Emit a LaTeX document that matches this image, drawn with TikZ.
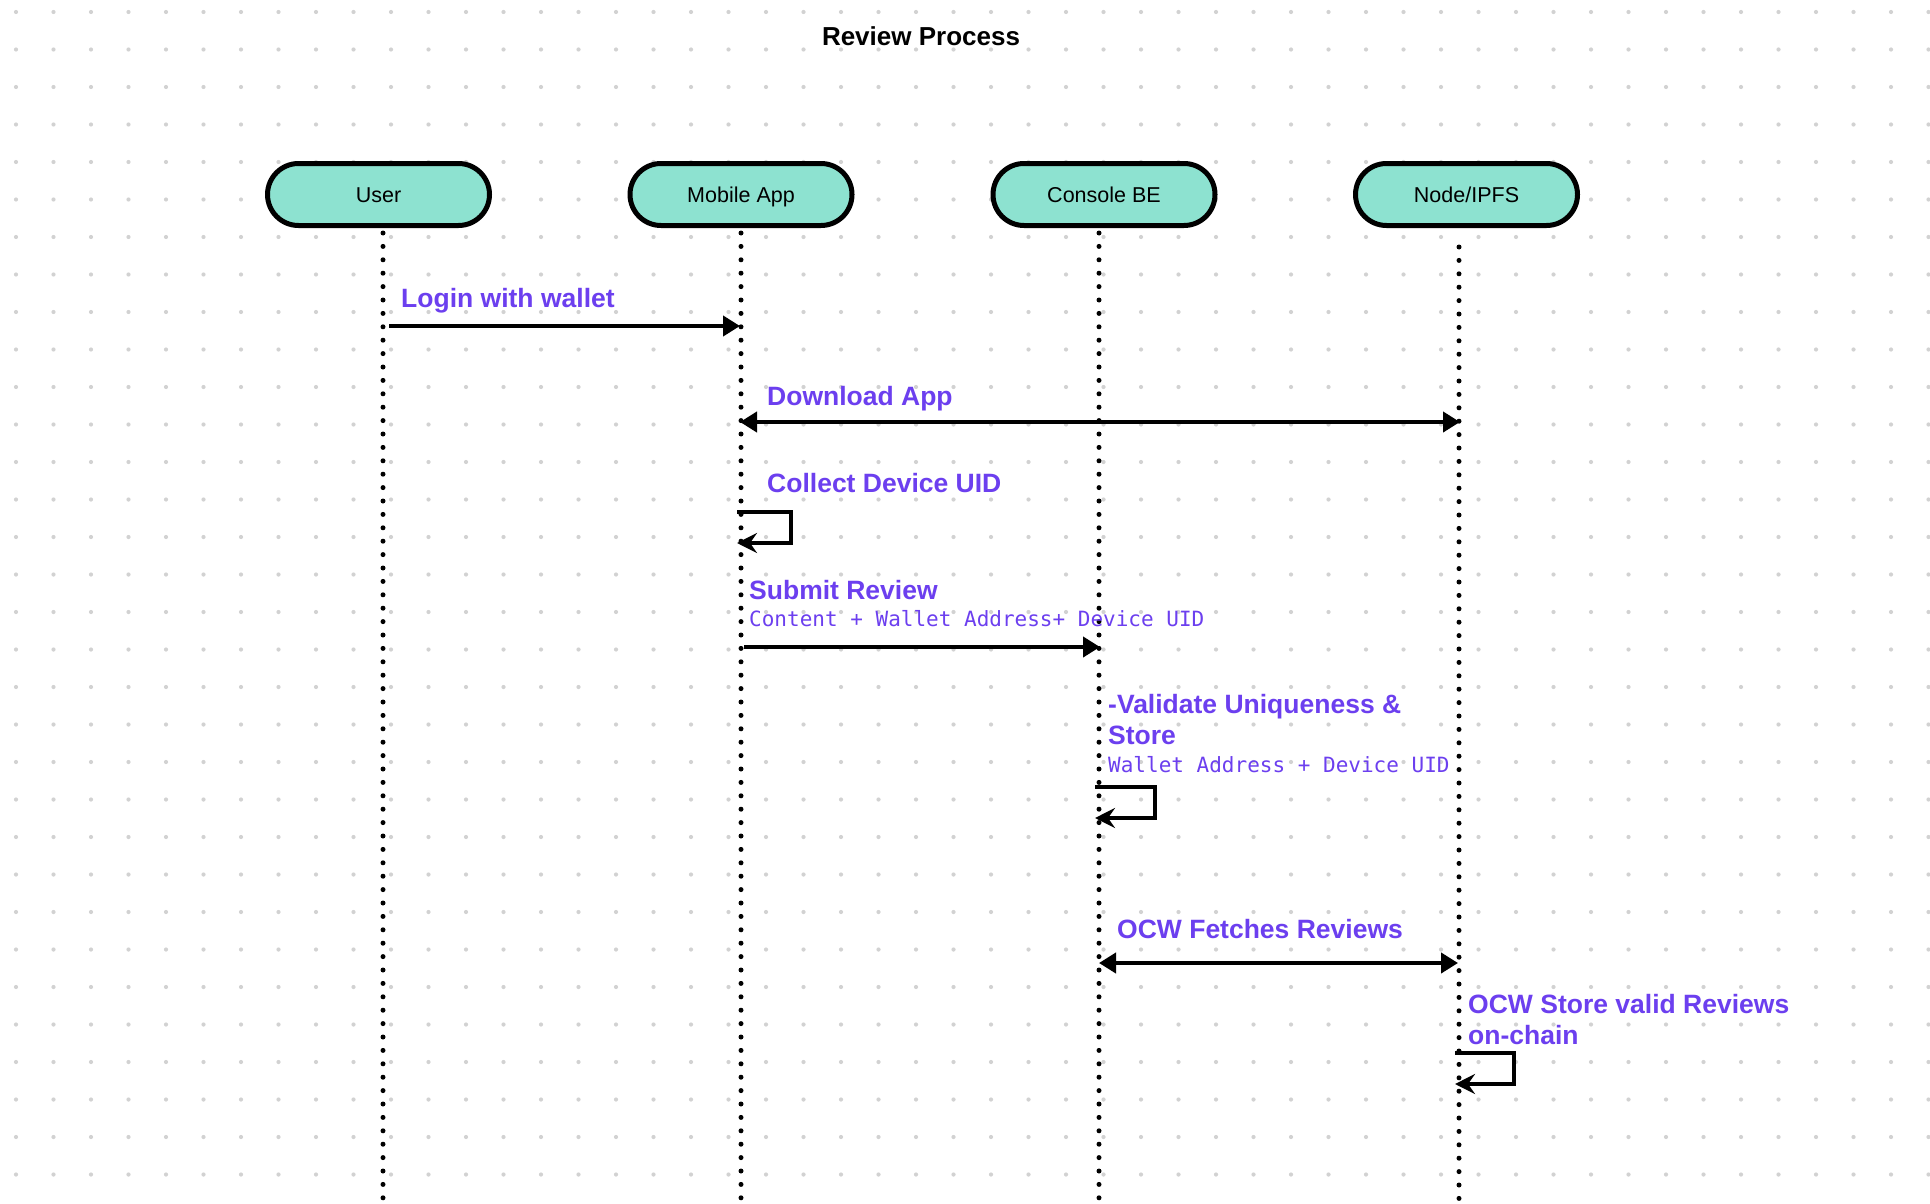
\documentclass[tikz,border=0pt]{standalone}
\usepackage{fontspec}
\setmainfont{Liberation Sans}
\newfontfamily\monofnt{DejaVu Sans Mono}
\usetikzlibrary{arrows.meta}
\definecolor{lblc}{HTML}{6C3FEF}
\definecolor{boxfill}{HTML}{8DE2D0}
\definecolor{griddot}{HTML}{D2D2D2}
\begin{document}
\begin{tikzpicture}[x=1pt,y=-1pt,
  actor/.style={draw=black, line width=5pt, fill=boxfill, rounded corners=31pt,
    minimum width=222pt, minimum height=62pt, inner sep=0pt,
    text height=17pt, text depth=2pt,
    font=\fontsize{21.5}{25}\selectfont},
  lifeline/.style={line width=5pt, dash pattern=on 0pt off 13.4pt, line cap=round},
  msg/.style={line width=4pt, -{Triangle[length=17pt,width=20pt]}},
  dmsg/.style={line width=4pt, {Triangle[length=17pt,width=20pt]}-{Triangle[length=17pt,width=20pt]}},
  selfloop/.style={line width=4pt, -{Stealth[length=20pt,width=20pt,inset=7pt]}},
  lbl/.style={text=lblc, font=\fontsize{26.5}{31}\selectfont\bfseries, inner sep=0pt, anchor=base west},
  monolbl/.style={text=lblc, font=\fontsize{21}{27}\monofnt, inner sep=0pt, anchor=base west},
  titlestyle/.style={font=\fontsize{26}{31}\selectfont\bfseries, inner sep=0pt, anchor=base}
]
\useasboundingbox[fill=white] (0,0) rectangle (1930,1204);
% dot grid
\foreach \i in {0,...,51}{
  \foreach \j in {0,...,31}{
    \fill[griddot] (16+37.5*\i,12+37.5*\j) circle (2.1pt);
  }
}
% title
\node[titlestyle] (title) at (921,46) {Review Process};
% lifelines
\coordinate (userT) at (383,233);  \coordinate (userB) at (383,1206);
\coordinate (appT)  at (741,233);  \coordinate (appB)  at (741,1206);
\coordinate (beT)   at (1099,233); \coordinate (beB)   at (1099,1206);
\coordinate (ipfsT) at (1459,247); \coordinate (ipfsB) at (1459,1206);
\draw[lifeline] (userT) -- (userB);
\draw[lifeline] (appT) -- (appB);
\draw[lifeline] (beT) -- (beB);
\draw[lifeline] (ipfsT) -- (ipfsB);
% actors
\node[actor] (user) at (378.5,194.5) {User};
\node[actor] (app)  at (741,194.5) {Mobile App};
\node[actor] (be)   at (1104,194.5) {Console BE};
\node[actor] (ipfs) at (1466.5,194.5) {Node/IPFS};
% 1 login
\coordinate (m1a) at (389,326); \coordinate (m1b) at (740,326);
\draw[msg] (m1a) -- (m1b);
\node[lbl] (l1) at (401,307) {Login with wallet};
% 2 download
\coordinate (m2a) at (740,422); \coordinate (m2b) at (1460,422);
\draw[dmsg] (m2a) -- (m2b);
\node[lbl] (l2) at (767,405) {Download App};
% 3 collect device uid
\coordinate (m3a) at (737,512); \coordinate (m3b) at (737,543);
\draw[selfloop] (m3a) -- (791,512) |- (m3b);
\node[lbl] (l3) at (767,492) {Collect Device UID};
% 4 submit review
\coordinate (m4a) at (744,647); \coordinate (m4b) at (1100,647);
\draw[msg] (m4a) -- (m4b);
\node[lbl] (l4) at (749,599) {Submit Review};
\node[monolbl] (l4b) at (749,626) {Content + Wallet Address+ Device UID};
% 5 validate
\coordinate (m5a) at (1095,787); \coordinate (m5b) at (1095,818);
\draw[selfloop] (m5a) -- (1155,787) |- (m5b);
\node[lbl] (l5) at (1108,713) {\vtop{\hbox{-Validate Uniqueness \&}\hbox{Store}}};
\node[monolbl] (l5b) at (1108,772) {Wallet Address + Device UID};
% 6 OCW fetches
\coordinate (m6a) at (1099,963); \coordinate (m6b) at (1458,963);
\draw[dmsg] (m6a) -- (m6b);
\node[lbl] (l6) at (1117,938) {OCW Fetches Reviews};
% 7 OCW store
\coordinate (m7a) at (1455,1053); \coordinate (m7b) at (1455,1084);
\draw[selfloop] (m7a) -- (1514,1053) |- (m7b);
\node[lbl] (l7) at (1468,1013) {\vtop{\hbox{OCW Store valid Reviews}\hbox{on-chain}}};
\end{tikzpicture}
\end{document}
